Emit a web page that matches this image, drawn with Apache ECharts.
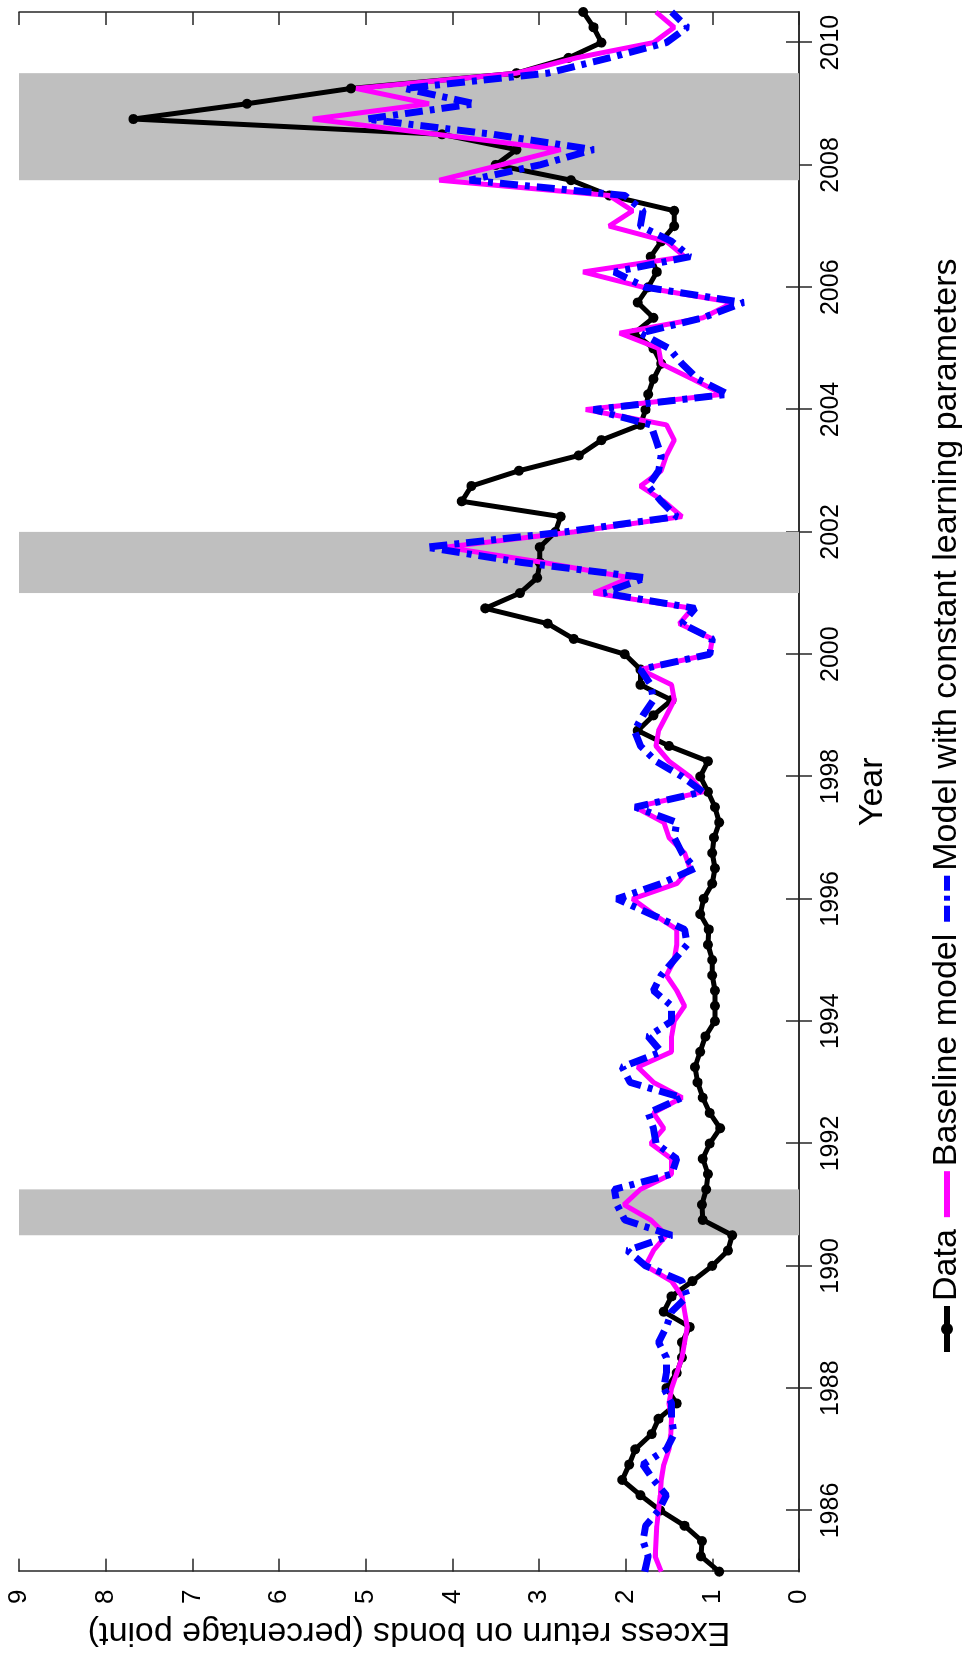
<!DOCTYPE html>
<html>
<head>
<meta charset="utf-8">
<script src="https://cdn.jsdelivr.net/npm/echarts@6/dist/echarts.min.js"></script>
<style>
  html, body { margin: 0; padding: 0; background: #fff; }
  #page { position: relative; width: 962px; height: 1657px; overflow: hidden; }
  /* the figure is drawn landscape and turned a quarter turn counter-clockwise */
  #chart {
    position: absolute; left: 0; top: 0;
    width: 1657px; height: 962px;
    transform-origin: 0 0;
    transform: translate(0, 1657px) rotate(-90deg);
  }
</style>
</head>
<body>
<div id="page"><div id="chart"></div></div>
<script>
// quarterly observations, 1985Q1 .. 2010Q3
const startYear = 1985;
const nQuarters = 103;

const dataValues = [
  0.92, 1.13, 1.12, 1.32,   // 1985
  1.60, 1.83, 2.04, 1.96,   // 1986
  1.89, 1.70, 1.62, 1.41,   // 1987
  1.53, 1.41, 1.35, 1.35,   // 1988
  1.26, 1.56, 1.47, 1.23,   // 1989
  1.00, 0.82, 0.77, 1.11,   // 1990
  1.12, 1.07, 1.05, 1.11,   // 1991
  1.03, 0.91, 1.03, 1.11,   // 1992
  1.17, 1.20, 1.14, 1.08,   // 1993
  0.97, 0.97, 0.97, 1.00,   // 1994
  1.00, 1.05, 1.04, 1.14,   // 1995
  1.10, 1.00, 0.97, 1.00,   // 1996
  0.98, 0.92, 0.97, 1.05,   // 1997
  1.14, 1.05, 1.50, 1.86,   // 1998
  1.68, 1.47, 1.83, 1.83,   // 1999
  2.01, 2.60, 2.90, 3.62,   // 2000
  3.22, 3.02, 2.99, 2.99,   // 2001
  2.81, 2.75, 3.89, 3.78,   // 2002
  3.23, 2.54, 2.28, 1.83,   // 2003
  1.77, 1.74, 1.68, 1.59,   // 2004
  1.68, 1.90, 1.68, 1.86,   // 2005
  1.74, 1.64, 1.71, 1.59,   // 2006
  1.44, 1.44, 2.19, 2.63,   // 2007
  3.50, 3.26, 4.12, 7.68,   // 2008
  6.37, 5.17, 3.26, 2.66,   // 2009
  2.28, 2.37, 2.49          // 2010
];

const baselineValues = [
  1.59, 1.66, 1.65, 1.64,
  1.62, 1.60, 1.59, 1.56,
  1.50, 1.48, 1.47, 1.50,
  1.47, 1.41, 1.35, 1.32,
  1.29, 1.32, 1.35, 1.47,
  1.77, 1.68, 1.53, 1.71,
  2.02, 1.83, 1.47, 1.47,
  1.71, 1.56, 1.68, 1.35,
  1.68, 1.86, 1.47, 1.47,
  1.44, 1.32, 1.41, 1.53,
  1.44, 1.41, 1.41, 1.68,
  1.92, 1.41, 1.26, 1.32,
  1.50, 1.56, 1.89, 1.11,
  1.26, 1.50, 1.65, 1.62,
  1.53, 1.44, 1.47, 1.83,
  1.03, 1.00, 1.38, 1.23,
  2.37, 1.95, 2.95, 4.08,
  2.60, 1.35, 1.56, 1.83,
  1.59, 1.53, 1.44, 1.53,
  2.46, 0.88, 1.23, 1.59,
  1.62, 2.07, 1.11, 0.76,
  1.80, 2.49, 1.32, 1.53,
  2.19, 1.92, 2.19, 4.15,
  3.44, 2.75, 4.18, 5.61,
  4.27, 5.11, 3.26, 2.57,
  1.68, 1.44, 1.65
];

const constantValues = [
  1.78, 1.74, 1.80, 1.77,
  1.62, 1.53, 1.68, 1.80,
  1.53, 1.44, 1.47, 1.47,
  1.56, 1.53, 1.53, 1.62,
  1.53, 1.47, 1.29, 1.35,
  1.77, 1.98, 1.47, 2.01,
  2.10, 2.13, 1.47, 1.41,
  1.65, 1.68, 1.74, 1.35,
  1.95, 2.04, 1.59, 1.74,
  1.47, 1.47, 1.68, 1.59,
  1.44, 1.29, 1.32, 1.71,
  2.10, 1.59, 1.20, 1.35,
  1.44, 1.41, 1.89, 1.11,
  1.35, 1.65, 1.83, 1.90,
  1.80, 1.68, 1.71, 1.83,
  1.03, 1.00, 1.35, 1.20,
  2.25, 1.77, 3.20, 4.30,
  2.70, 1.41, 1.59, 1.74,
  1.62, 1.59, 1.65, 1.71,
  2.37, 0.82, 1.17, 1.35,
  1.50, 1.83, 1.11, 0.64,
  1.77, 2.13, 1.26, 1.47,
  1.83, 1.80, 2.01, 3.80,
  2.99, 2.37, 3.53, 4.99,
  3.74, 4.55, 2.90, 2.19,
  1.53, 1.29, 1.47
];

// shaded recession periods [from, to]
const recessions = [
  [1990.5, 1991.25],
  [2001.0, 2002.0],
  [2007.75, 2009.5]
];

const yearTicks = [1986, 1988, 1990, 1992, 1994, 1996, 1998, 2000, 2002, 2004, 2006, 2008, 2010];
const seriesNames = ['Data', 'Baseline model', 'Model with constant learning parameters'];

// legend glyphs: line with dot, solid line, dash-dot line
const legendIcons = [
  'path://M0,3H46V9H0Z M17,6A6,6 0 1,1 29,6A6,6 0 1,1 17,6Z',
  'path://M0,0H46V6H0Z',
  'path://M0,0H16V6H0Z M21,0H26V6H21Z M31,0H46V6H31Z'
];

const quarters = [];
for (let i = 0; i < nQuarters; i++) quarters.push(startYear + i / 4);
const pairs = vals => quarters.map((t, i) => [t, vals[i]]);

const font = 'Liberation Sans, Arial, Helvetica, sans-serif';
const frameColor = '#262626';

const chart = echarts.init(document.getElementById('chart'));
chart.setOption({
  animation: false,
  backgroundColor: '#fff',
  textStyle: { fontFamily: font, color: '#000' },
  grid: { left: 81, right: 12, top: 19, bottom: 163 },
  legend: {
    data: seriesNames.map((n, i) => ({ name: n, icon: legendIcons[i] })),
    left: 300,
    top: 925,
    itemWidth: 46,
    itemHeight: 12,
    itemGap: 12,
    textStyle: { fontSize: 34, fontFamily: font, color: '#000' }
  },
  xAxis: [
    {
      type: 'value', min: 1985, max: 2010.5,
      name: 'Year', nameLocation: 'middle', nameGap: 57,
      nameTextStyle: { fontSize: 34, fontFamily: font, color: '#000' },
      axisLine: { show: true, lineStyle: { color: frameColor, width: 1.5 } },
      axisTick: { show: true, inside: true, length: 13, customValues: yearTicks, lineStyle: { color: frameColor, width: 1.5 } },
      axisLabel: {
        customValues: yearTicks, fontSize: 25, margin: 20, color: '#000', fontFamily: font,
        formatter: v => String(v)
      },
      splitLine: { show: false }
    },
    {
      type: 'value', min: 1985, max: 2010.5, position: 'top',
      axisLine: { show: true, lineStyle: { color: frameColor, width: 1.5 } },
      axisTick: { show: true, inside: true, length: 13, customValues: yearTicks, lineStyle: { color: frameColor, width: 1.5 } },
      axisLabel: { show: false },
      splitLine: { show: false }
    }
  ],
  yAxis: [
    {
      type: 'value', min: 0, max: 9, interval: 1,
      name: 'Excess return on bonds (percentage point)', nameLocation: 'middle', nameGap: 40,
      nameTextStyle: { fontSize: 34, fontFamily: font, color: '#000' },
      axisLine: { show: true, lineStyle: { color: frameColor, width: 1.5 } },
      axisTick: { show: true, inside: true, length: 13, lineStyle: { color: frameColor, width: 1.5 } },
      axisLabel: { fontSize: 26, margin: 18, color: '#000', fontFamily: font },
      splitLine: { show: false }
    },
    {
      type: 'value', min: 0, max: 9, interval: 1, position: 'right',
      axisLine: { show: true, lineStyle: { color: frameColor, width: 1.5 } },
      axisTick: { show: true, inside: true, length: 13, lineStyle: { color: frameColor, width: 1.5 } },
      axisLabel: { show: false },
      splitLine: { show: false }
    }
  ],
  series: [
    {
      name: 'recessions', type: 'line', data: [], silent: true, z: 1,
      markArea: {
        silent: true,
        itemStyle: { color: '#bfbfbf' },
        data: recessions.map(r => [{ xAxis: r[0] }, { xAxis: r[1] }])
      }
    },
    {
      name: seriesNames[0], type: 'line', data: pairs(dataValues), z: 3,
      symbol: 'circle', symbolSize: 10, showSymbol: true, clip: false,
      lineStyle: { color: '#000', width: 5 },
      itemStyle: { color: '#000' }
    },
    {
      name: seriesNames[1], type: 'line', data: pairs(baselineValues), z: 4,
      symbol: 'none', clip: false,
      lineStyle: { color: '#ff00ff', width: 5 },
      itemStyle: { color: '#ff00ff' }
    },
    {
      name: seriesNames[2], type: 'line', data: pairs(constantValues), z: 5,
      symbol: 'none', clip: false,
      lineStyle: { color: '#0000ff', width: 7, type: [18, 7, 5, 7] },
      itemStyle: { color: '#0000ff' }
    }
  ]
});
</script>
</body>
</html>
